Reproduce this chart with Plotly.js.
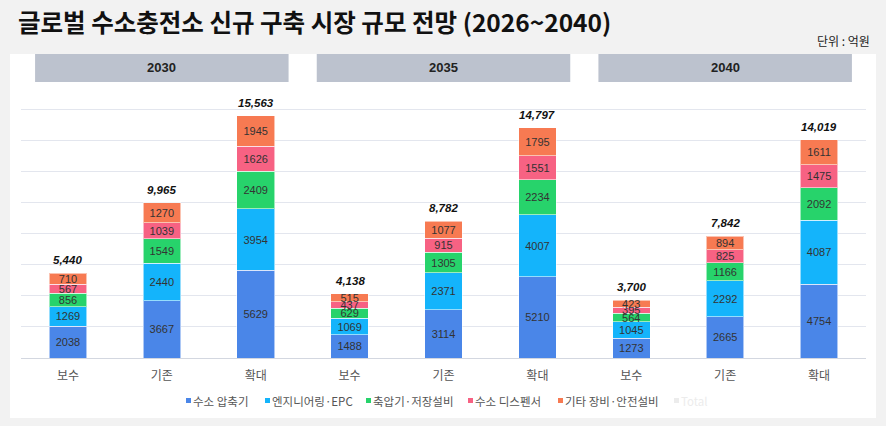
<!DOCTYPE html>
<html>
<head>
<meta charset="utf-8">
<script src="https://cdn.plot.ly/plotly-3.0.1.min.js"></script>
<style>
html,body{margin:0;padding:0;background:#f2f2f2;}
#chart{width:886px;height:426px;}
</style>
</head>
<body>
<div id="chart"></div>
<script>
// ---- data ----
const years = ['2030', '2035', '2040'];
const scenarios = ['보수', '기존', '확대'];
const seriesNames = ['수소 압축기', '엔지니어링·EPC', '축압기·저장설비', '수소 디스펜서', '기타 장비·안전설비'];
const compressor  = [2038, 3667, 5629, 1488, 3114, 5210, 1273, 2665, 4754];
const engineering = [1269, 2440, 3954, 1069, 2371, 4007, 1045, 2292, 4087];
const storage     = [856, 1549, 2409, 629, 1305, 2234, 564, 1166, 2092];
const dispenser   = [567, 1039, 1626, 437, 915, 1551, 395, 825, 1475];
const others      = [710, 1270, 1945, 515, 1077, 1795, 423, 894, 1611];
const totals      = [5440, 9965, 15563, 4138, 8782, 14797, 3700, 7842, 14019];
const colors = ['#4a86e8', '#14b4fb', '#27d36b', '#f76283', '#f77a52'];

// ---- build ----
const W = 886, H = 426, ML = 21, MR = 20, MT = 78, MB = 68;
const PW = W - ML - MR, PH = H - MT - MB;
const px2x = p => (p - ML) / PW;
const px2y = p => (H - MB - p) / PH;

const seriesValues = [compressor, engineering, storage, dispenser, others];
const xpos = [];
const xlabels = [];
years.forEach((y, gi) => scenarios.forEach((s, si) => { xpos.push(gi * 3 + si); xlabels.push(s); }));

const traces = seriesValues.map((vals, i) => ({
  type: 'bar',
  name: seriesNames[i],
  x: xpos,
  y: vals,
  width: 0.4,
  marker: { color: colors[i], line: { color: 'rgba(255,255,255,0.55)', width: 1 } },
  text: vals.map(String),
  textposition: 'inside',
  insidetextanchor: 'middle',
  textangle: 0,
  textfont: { family: 'Liberation Sans Narrow, Arial Narrow, sans-serif', size: 11, color: '#333' },
  showlegend: false,
  hoverinfo: 'name+y'
}));

const shapes = [{
  type: 'rect', xref: 'paper', yref: 'paper', layer: 'below',
  x0: px2x(10), x1: px2x(876), y0: px2y(418), y1: px2y(54),
  fillcolor: '#ffffff', line: { width: 0 }
}];
const annotations = [];

// total labels above each stack
xpos.forEach((x, i) => {
  annotations.push({
    xref: 'x', yref: 'y', x: x, y: totals[i],
    text: '<b><i>' + totals[i].toLocaleString('en-US') + '</i></b>',
    showarrow: false, xanchor: 'center', yanchor: 'bottom', yshift: 5,
    font: { family: 'Liberation Sans Narrow, Arial, sans-serif', size: 11.5, color: '#111' }
  });
});

years.forEach((y, gi) => {
  const c = gi * 3 + 1;
  shapes.push({
    type: 'rect', xref: 'x', yref: 'paper', layer: 'above',
    x0: c - 1.35, x1: c + 1.35, y0: px2y(82), y1: px2y(54),
    fillcolor: '#bcc2ce', line: { width: 0 }
  });
  annotations.push({
    xref: 'x', yref: 'paper', x: c, y: px2y(68), text: '<b>' + y + '</b>', showarrow: false,
    font: { family: 'Liberation Sans Narrow, Arial, sans-serif', size: 13, color: '#222' },
    xanchor: 'center', yanchor: 'middle'
  });
});
annotations.push({
  xref: 'paper', yref: 'paper', x: px2x(872), y: px2y(40), text: '단위 : 억원', showarrow: false,
  font: { family: 'Noto Sans CJK KR, sans-serif', size: 12, color: '#222' },
  xanchor: 'right', yanchor: 'middle'
});

// custom compact legend (small squares + labels)
const legendNames = seriesNames.concat(['Total']);
const legendColors = colors.concat(['#ececec']);
const legendStarts = [186, 265, 366, 468, 558, 674];
legendNames.forEach((n, i) => {
  const x0 = legendStarts[i];
  shapes.push({
    type: 'rect', xref: 'paper', yref: 'paper', layer: 'above',
    x0: px2x(x0), x1: px2x(x0 + 5), y0: px2y(403), y1: px2y(398),
    fillcolor: legendColors[i], line: { width: 0 }
  });
  annotations.push({
    xref: 'paper', yref: 'paper', x: px2x(x0 + 5), y: px2y(401), text: n, showarrow: false,
    font: { family: 'Noto Sans CJK KR, sans-serif', size: 11.5, color: i < 5 ? '#555' : '#ececec' },
    xanchor: 'left', yanchor: 'middle'
  });
});

const layout = {
  width: W, height: H,
  margin: { l: ML, r: MR, t: MT, b: MB },
  paper_bgcolor: '#f2f2f2',
  plot_bgcolor: 'rgba(0,0,0,0)',
  barmode: 'stack',
  title: {
    text: '<b>글로벌 수소충전소 신규 구축 시장 규모 전망 (2026~2040)</b>',
    x: 18 / W, xanchor: 'left', xref: 'container',
    y: 1 - 23 / H, yanchor: 'middle', yref: 'container',
    font: { family: 'Noto Sans CJK KR, sans-serif', size: 24.5, color: '#111' }
  },
  xaxis: {
    range: [-0.5, 8.5],
    tickvals: xpos, ticktext: xlabels,
    showgrid: false, zeroline: false, showline: false,
    ticks: '', ticklabelstandoff: 9,
    tickfont: { family: 'Noto Sans CJK KR, sans-serif', size: 12, color: '#555' },
    fixedrange: true
  },
  yaxis: {
    range: [0, 18000], dtick: 2000,
    showticklabels: false,
    gridcolor: '#e3e6ee', gridwidth: 1,
    zeroline: true, zerolinecolor: '#d3d7e0', zerolinewidth: 1,
    fixedrange: true
  },
  uniformtext: { minsize: 11, mode: 'show' },
  shapes: shapes,
  annotations: annotations,
  showlegend: false
};

Plotly.newPlot('chart', traces, layout, { displayModeBar: false, staticPlot: true });
</script>
</body>
</html>
